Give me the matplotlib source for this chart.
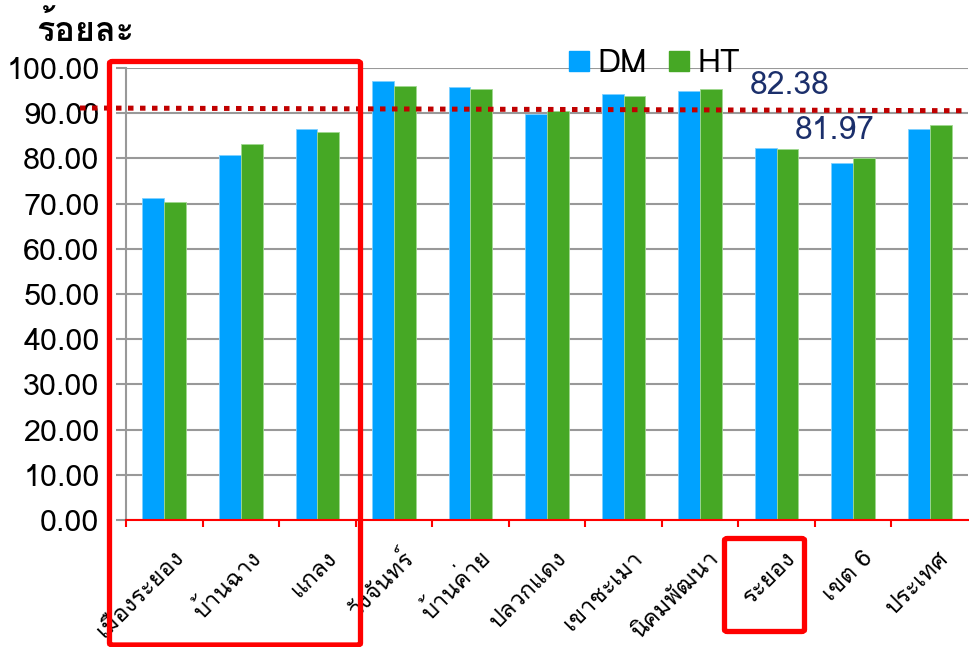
import matplotlib
matplotlib.use("Agg")
import matplotlib.pyplot as plt
from matplotlib.patches import FancyBboxPatch
from matplotlib.lines import Line2D
from matplotlib.transforms import blended_transform_factory

# ---- data -------------------------------------------------------------
categories = ["เมืองระยอง", "บ้านฉาง", "แกลง", "วังจันทร์", "บ้านค่าย",
              "ปลวกแดง", "เขาชะเมา", "นิคมพัฒนา", "ระยอง", "เขต 6", "ประเทศ"]
dm_values = [71.2, 80.8, 86.5, 97.1, 95.8, 89.8, 94.2, 94.9, 82.38, 79.0, 86.5]
ht_values = [70.4, 83.2, 85.8, 96.0, 95.4, 90.5, 93.8, 95.4, 81.97, 80.1, 87.4]
series_names = ["DM", "HT"]
y_ticks = [0, 10, 20, 30, 40, 50, 60, 70, 80, 90, 100]
target_line = (91.15, 90.55)   # dotted target line, left and right ends
highlight_idx = 8              # province total, values printed above

# ---- style ------------------------------------------------------------
THAI = ["Loma", "Noto Sans Thai Looped", "DejaVu Sans"]
plt.rcParams["font.family"] = THAI
DM_COLOR = "#00A2FF"
HT_COLOR = "#46A825"
GRID = "#999999"
RED = "#FF0000"

W, H = 969, 647
fig = plt.figure(figsize=(W / 100, H / 100), dpi=100)
ax = fig.add_axes([126 / W, 1 - 520 / H, (968 - 126) / W, (520 - 68) / H])

x = list(range(len(categories)))
bw = 0.285
ax.bar([i - bw / 2 for i in x], dm_values, width=bw, color=DM_COLOR,
       edgecolor="#7FD0FF", linewidth=0.6, zorder=3, label=series_names[0])
ax.bar([i + bw / 2 for i in x], ht_values, width=bw, color=HT_COLOR,
       edgecolor="#A0D890", linewidth=0.6, zorder=3, label=series_names[1])

ax.set_xlim(-0.5, len(categories) - 0.5)
ax.set_ylim(0, 100)
ax.set_yticks(y_ticks)
ax.set_yticklabels([f"{v:.2f}" for v in y_ticks], fontsize=22)
ax.yaxis.grid(True, color=GRID, linewidth=1.5, zorder=0)
ax.set_axisbelow(True)

for s in ("top", "right"):
    ax.spines[s].set_visible(False)
ax.spines["left"].set_color(GRID)
ax.spines["left"].set_linewidth(1.5)
ax.spines["bottom"].set_color(RED)
ax.spines["bottom"].set_linewidth(1.5)
ax.spines["bottom"].set_zorder(4)

ax.tick_params(axis="y", colors=GRID, length=7, width=1.5,
               labelcolor="black", pad=12)
# category boundaries carry the red tick marks
ax.set_xticks([i - 0.5 for i in x])
ax.set_xticklabels([])
ax.tick_params(axis="x", colors=RED, length=5, width=1.5, direction="out")

# rotated category names
for i, name in enumerate(categories):
    ax.text(i + 0.1, -5.8, name, rotation=45, ha="right", va="top",
            rotation_mode="anchor", fontsize=17, color="black", clip_on=False)

# values of the province total
ax.text(highlight_idx + 0.17, 96.0, f"{dm_values[highlight_idx]:.2f}",
        ha="center", va="center", fontsize=23, color="#1B2F6B")
ax.text(highlight_idx + 0.76, 86.0, f"{ht_values[highlight_idx]:.2f}",
        ha="center", va="center", fontsize=23, color="#1B2F6B")

# dotted target line, running from left of the axis to the right edge
tr = blended_transform_factory(ax.transAxes, ax.transData)
ax.add_line(Line2D([(80 - 126) / (968 - 126), 1.0], list(target_line),
                   transform=tr, color="#C00000", linewidth=3.6,
                   linestyle=(0, (1.1, 1.3)), zorder=5, clip_on=False))

# legend
handles = [Line2D([], [], marker="s", linestyle="none", markersize=14,
                  color=c) for c in (DM_COLOR, HT_COLOR)]
fig.legend(handles, series_names, loc="center left",
           bbox_to_anchor=(569 / W, 1 - 64 / H), ncol=2, frameon=False,
           fontsize=23, handlelength=0.6, handletextpad=0.28,
           columnspacing=0.7, borderpad=0, borderaxespad=0)

# y-axis title
fig.text(36 / W, 1 - 29 / H, "ร้อยละ", fontsize=24.5, fontweight="bold",
         ha="left", va="center")

# red highlight frames
def frame(x0, y0, x1, y1):
    fig.patches.append(FancyBboxPatch(
        (x0 / W, 1 - y1 / H), (x1 - x0) / W, (y1 - y0) / H,
        boxstyle="round,pad=0,rounding_size=0.003", transform=fig.transFigure,
        fill=False, edgecolor=RED, linewidth=3.8, zorder=10))

frame(109.5, 61.5, 360.5, 645)
frame(724.5, 538.5, 804.5, 631.5)

fig.savefig("out.png", dpi=100)
